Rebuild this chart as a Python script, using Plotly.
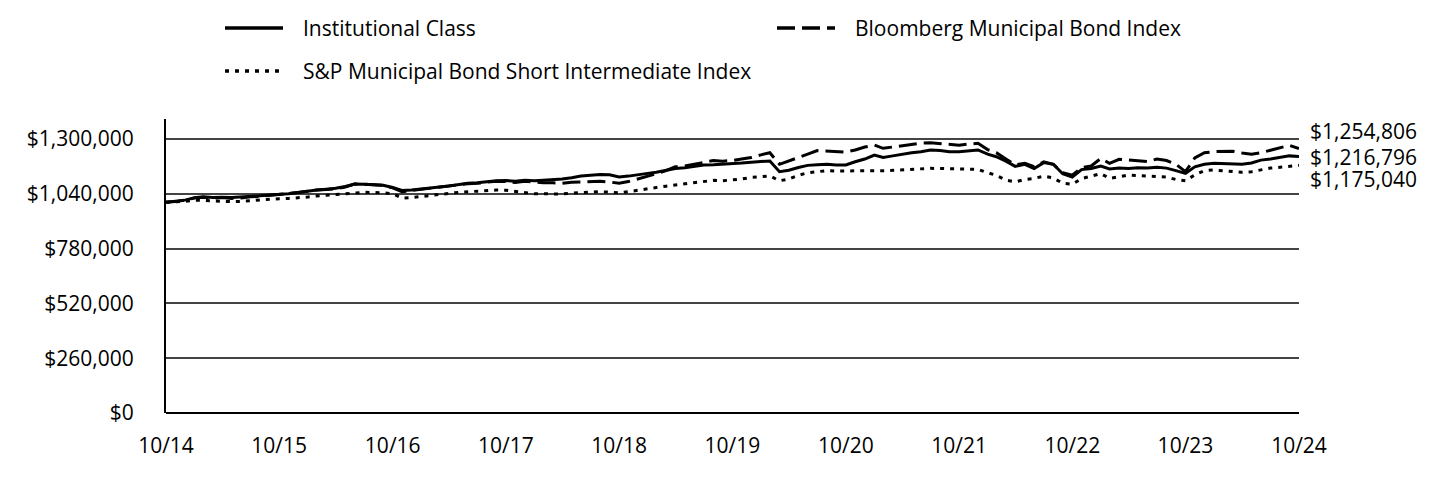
import pandas as pd
import plotly.graph_objects as go

# month-end dates, Oct 2014 .. Oct 2024
dates = pd.date_range("2014-10-31", periods=121, freq="ME")

institutional = [
    1000000, 1004000, 1010000, 1022000, 1026000, 1022000, 1024000, 1022000, 1026000, 1030000, 1031000, 1034000,
    1036000, 1040000, 1046000, 1053000, 1058000, 1062000, 1066000, 1075000, 1086000, 1085000, 1083000, 1081000,
    1070000, 1056000, 1058000, 1064000, 1068000, 1072000, 1077000, 1085000, 1090000, 1092000, 1098000, 1102000,
    1103000, 1100000, 1104000, 1102000, 1104000, 1106000, 1110000, 1116000, 1124000, 1128000, 1132000, 1130000,
    1120000, 1124000, 1132000, 1137000, 1142000, 1150000, 1160000, 1164000, 1170000, 1177000, 1178000, 1180000,
    1184000, 1186000, 1190000, 1192000, 1196000, 1145000, 1152000, 1165000, 1175000, 1178000, 1180000, 1177000,
    1177000, 1192000, 1205000, 1224000, 1213000, 1220000, 1228000, 1235000, 1240000, 1248000, 1245000, 1240000,
    1240000, 1244000, 1248000, 1228000, 1216000, 1195000, 1170000, 1180000, 1160000, 1188000, 1180000, 1135000,
    1120000, 1155000, 1160000, 1172000, 1158000, 1162000, 1160000, 1164000, 1163000, 1166000, 1162000, 1150000,
    1137000, 1168000, 1180000, 1185000, 1184000, 1183000, 1180000, 1186000, 1200000, 1205000, 1212000, 1220000,
    1216796,
]

bloomberg_muni = [
    1000000, 1003000, 1010000, 1020000, 1024000, 1020000, 1022000, 1018000, 1020000, 1026000, 1028000, 1032000,
    1035000, 1040000, 1046000, 1052000, 1058000, 1060000, 1064000, 1072000, 1086000, 1086000, 1084000, 1080000,
    1068000, 1050000, 1056000, 1062000, 1066000, 1070000, 1076000, 1083000, 1088000, 1090000, 1095000, 1100000,
    1098000, 1094000, 1100000, 1096000, 1092000, 1092000, 1090000, 1095000, 1097000, 1098000, 1100000, 1096000,
    1090000, 1098000, 1110000, 1125000, 1135000, 1150000, 1168000, 1172000, 1180000, 1190000, 1198000, 1195000,
    1198000, 1205000, 1212000, 1225000, 1235000, 1180000, 1195000, 1212000, 1228000, 1245000, 1243000, 1240000,
    1238000, 1248000, 1262000, 1271000, 1256000, 1262000, 1268000, 1272000, 1280000, 1282000, 1278000, 1275000,
    1271000, 1276000, 1280000, 1250000, 1235000, 1205000, 1177000, 1185000, 1169000, 1192000, 1180000, 1140000,
    1128000, 1165000, 1172000, 1208000, 1185000, 1204000, 1200000, 1194000, 1193000, 1205000, 1198000, 1180000,
    1145000, 1210000, 1235000, 1240000, 1240000, 1242000, 1234000, 1228000, 1235000, 1248000, 1258000, 1270000,
    1254806,
]

sp_short_intermediate = [
    1000000, 1002000, 1004000, 1010000, 1008000, 1005000, 1005000, 1003000, 1004000, 1008000, 1012000, 1015000,
    1017000, 1018000, 1020000, 1025000, 1030000, 1034000, 1036000, 1040000, 1045000, 1047000, 1046000, 1045000,
    1040000, 1020000, 1022000, 1028000, 1032000, 1036000, 1042000, 1047000, 1050000, 1052000, 1056000, 1058000,
    1057000, 1052000, 1045000, 1040000, 1040000, 1038000, 1039000, 1043000, 1046000, 1050000, 1050000, 1048000,
    1044000, 1050000, 1058000, 1065000, 1070000, 1076000, 1082000, 1088000, 1095000, 1100000, 1104000, 1102000,
    1106000, 1110000, 1118000, 1122000, 1125000, 1102000, 1110000, 1128000, 1140000, 1145000, 1150000, 1148000,
    1149000, 1150000, 1152000, 1150000, 1149000, 1152000, 1154000, 1156000, 1160000, 1161000, 1160000, 1159000,
    1158000, 1157000, 1156000, 1140000, 1128000, 1105000, 1097000, 1108000, 1113000, 1124000, 1115000, 1090000,
    1085000, 1112000, 1125000, 1136000, 1113000, 1122000, 1129000, 1127000, 1124000, 1122000, 1120000, 1108000,
    1102000, 1130000, 1150000, 1153000, 1150000, 1148000, 1142000, 1145000, 1155000, 1162000, 1166000, 1172000,
    1175040,
]

series_names = ["Institutional Class", "Bloomberg Municipal Bond Index",
                "S&P Municipal Bond Short Intermediate Index"]
end_labels = ["$1,216,796", "$1,254,806", "$1,175,040"]

x_tickvals = pd.date_range("2014-10-31", periods=11, freq="12ME")
x_ticktext = ["10/14", "10/15", "10/16", "10/17", "10/18", "10/19",
              "10/20", "10/21", "10/22", "10/23", "10/24"]
y_tickvals = [0, 260000, 520000, 780000, 1040000, 1300000]
y_ticktext = ["$0", "$260,000", "$520,000", "$780,000", "$1,040,000", "$1,300,000"]

FONT = "Open Sans"
FS = 21
W, H = 1440, 480
OFF = 8  # page body margin
L, R, T, B = 166 - OFF, 141 + OFF, 119 - OFF, 67 + OFF
pw, ph = W - L - R, H - T - B

def px(x):
    return (x - OFF - L) / pw

def py(y):
    return (H - B - (y - OFF)) / ph

dashes = ["solid", "18px,7px", "4px,6px"]
all_series = [institutional, bloomberg_muni, sp_short_intermediate]

fig = go.Figure()

# draw S&P first so solid line stays on top
for idx in [2, 1, 0]:
    fig.add_trace(go.Scatter(
        x=dates, y=all_series[idx], mode="lines", name=series_names[idx],
        line=dict(color="black", width=3, dash=dashes[idx]),
        showlegend=False, hoverinfo="skip",
    ))

# manual legend
legend_pos = [(225, 28), (777, 28), (225, 71)]
for idx, (lx, ly) in enumerate(legend_pos):
    fig.add_shape(type="line", xref="paper", yref="paper",
                  x0=px(lx), x1=px(lx + 58), y0=py(ly), y1=py(ly),
                  line=dict(color="black", width=3.5, dash=dashes[idx]))
    fig.add_annotation(xref="paper", yref="paper", x=px(lx + 76), y=py(ly),
                       text=series_names[idx], showarrow=False,
                       xanchor="left", yanchor="middle",
                       font=dict(family=FONT, size=FS, color="black"))

# end value labels
shifts = [0, 18, -14]
for idx in range(3):
    fig.add_annotation(x=dates[-1], y=all_series[idx][-1], text=end_labels[idx],
                       showarrow=False, xanchor="left", yanchor="middle",
                       xshift=9, yshift=shifts[idx],
                       font=dict(family=FONT, size=FS, color="black"))

fig.update_layout(
    width=W, height=H,
    margin=dict(l=L, r=R, t=T, b=B, pad=0),
    plot_bgcolor="white", paper_bgcolor="white",
    font=dict(family=FONT, size=FS, color="black"),
    xaxis=dict(range=[dates[0], dates[-1]], tickvals=x_tickvals, ticktext=x_ticktext,
               showgrid=False, showline=False, zeroline=False, ticks="",
               tickfont=dict(family=FONT, size=FS), ticklabelstandoff=18),
    yaxis=dict(range=[0, 1395000], tickvals=y_tickvals, ticktext=y_ticktext,
               showgrid=True, gridcolor="#444444", gridwidth=1.5,
               showline=True, linecolor="black", linewidth=2,
               zeroline=True, zerolinecolor="black", zerolinewidth=2,
               ticks="", tickfont=dict(family=FONT, size=FS), ticklabelstandoff=26),
)

fig.write_html("out.html")
